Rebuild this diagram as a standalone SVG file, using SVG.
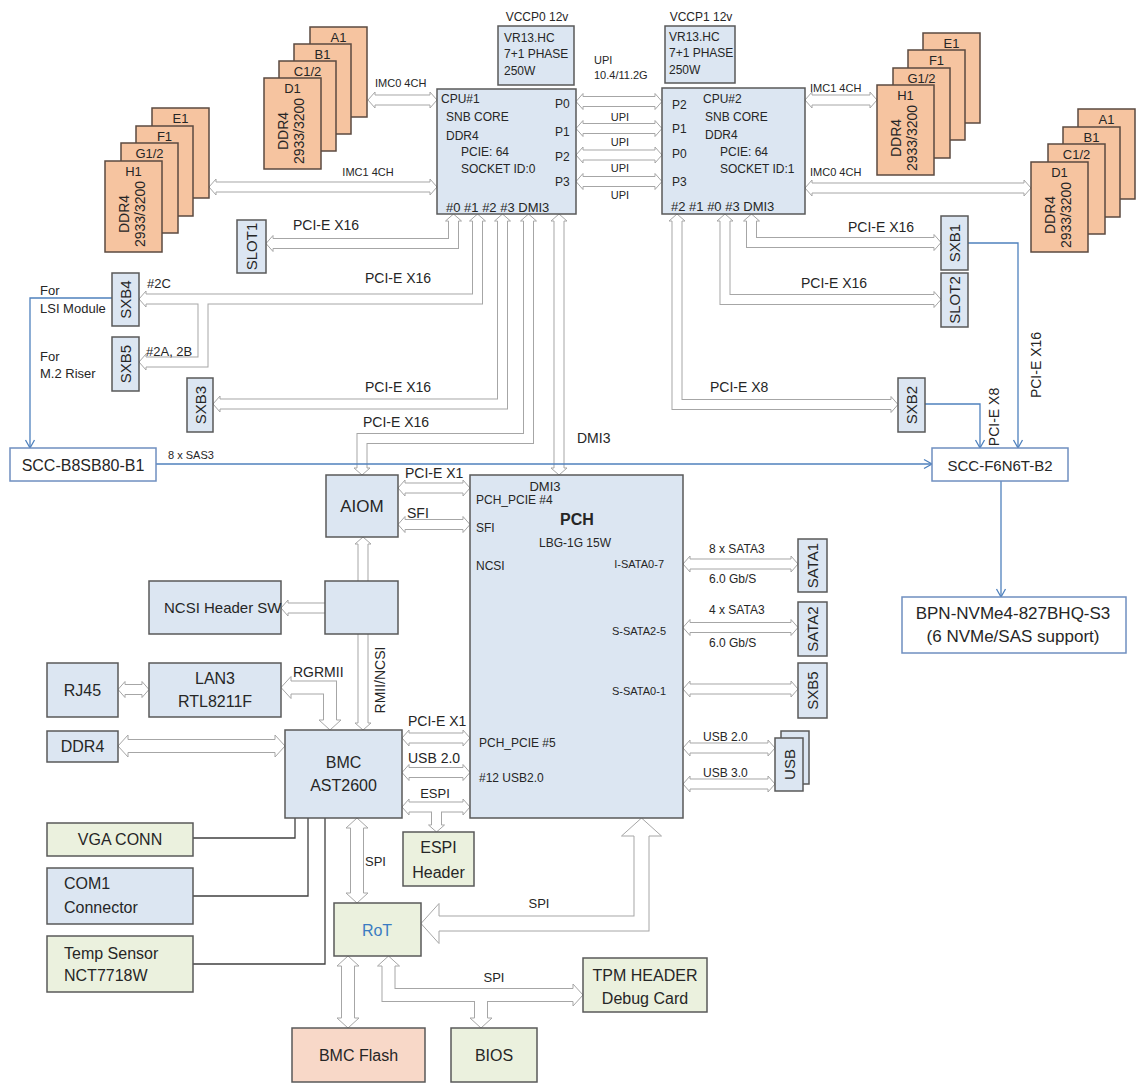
<svg xmlns="http://www.w3.org/2000/svg" width="1140" height="1087" viewBox="0 0 1140 1087">
<style>
text{font-family:"Liberation Sans",Arial,sans-serif;fill:#262626;dominant-baseline:central;font-size:12px}
.c{text-anchor:middle}
.e{text-anchor:end}
.bx{fill:#dce6f2;stroke:#595959;stroke-width:1.5}
.gr{fill:#ebf1de;stroke:#595959;stroke-width:1.5}
.pk{fill:#f8d8c8;stroke:#595959;stroke-width:1.5}
.dm{fill:#f6c4a0;stroke:#5b4a40;stroke-width:1.5}
.wb{fill:#fff;stroke:#6f8fc0;stroke-width:1.5}
.so{fill:none;stroke:#a6a6a6;stroke-width:11}
.si{fill:none;stroke:#fff;stroke-width:9}
.mo{fill:none;stroke:#a6a6a6;stroke-width:14}
.mi{fill:none;stroke:#fff;stroke-width:12}
.lo{fill:none;stroke:#a6a6a6;stroke-width:16}
.li{fill:none;stroke:#fff;stroke-width:14}
.bl{fill:none;stroke:#4f81bd;stroke-width:1.3}
.dk{fill:none;stroke:#404040;stroke-width:1.3}
.t11{font-size:11px}.t12{font-size:12px}.t13{font-size:13px}.t14{font-size:14px}.t15{font-size:15px}.t16{font-size:16px}.t17{font-size:17px}
</style>
<defs>
<marker id="hs" markerUnits="userSpaceOnUse" markerWidth="10" markerHeight="20" refX="0" refY="0" orient="auto-start-reverse" overflow="visible">
<polyline points="0,-5 0,-8 7,0 0,8 0,5" fill="#fff" stroke="#a6a6a6" stroke-width="1"/>
</marker>
<marker id="hm" markerUnits="userSpaceOnUse" markerWidth="12" markerHeight="24" refX="0" refY="0" orient="auto-start-reverse" overflow="visible">
<polyline points="0,-6.5 0,-11 10,0 0,11 0,6.5" fill="#fff" stroke="#a6a6a6" stroke-width="1"/>
</marker>
<marker id="hb" markerUnits="userSpaceOnUse" markerWidth="20" markerHeight="42" refX="0" refY="0" orient="auto-start-reverse" overflow="visible">
<polyline points="0,-7.5 0,-20 18,0 0,20 0,7.5" fill="#fff" stroke="#a6a6a6" stroke-width="1"/>
</marker>
<marker id="ba" markerUnits="userSpaceOnUse" markerWidth="10" markerHeight="10" refX="8" refY="0" orient="auto" overflow="visible">
<path d="M0,-4.5L8,0L0,4.5" fill="none" stroke="#4f81bd" stroke-width="1.3"/>
</marker>
</defs>
<rect width="1140" height="1087" fill="#fff"/>

<g id="connectors">
<!-- memory buses -->
<path class="so" d="M375 100H430" marker-start="url(#hs)" marker-end="url(#hs)"/><path class="si" d="M375 100H430"/>
<path class="so" d="M216 187H430" marker-start="url(#hs)" marker-end="url(#hs)"/><path class="si" d="M216 187H430"/>
<path class="so" d="M812 100H870" marker-start="url(#hs)" marker-end="url(#hs)"/><path class="si" d="M812 100H870"/>
<path class="so" d="M812 188H1024" marker-start="url(#hs)" marker-end="url(#hs)"/><path class="si" d="M812 188H1024"/>
<!-- UPI -->
<path class="so" d="M583 101.5H655" marker-start="url(#hs)" marker-end="url(#hs)"/><path class="si" d="M583 101.5H655"/>
<path class="so" d="M583 128.5H655" marker-start="url(#hs)" marker-end="url(#hs)"/><path class="si" d="M583 128.5H655"/>
<path class="so" d="M583 155H655" marker-start="url(#hs)" marker-end="url(#hs)"/><path class="si" d="M583 155H655"/>
<path class="so" d="M583 181.5H655" marker-start="url(#hs)" marker-end="url(#hs)"/><path class="si" d="M583 181.5H655"/>
<!-- CPU1 PCIe -->
<path class="so" d="M453.5 221V243.5H273" marker-start="url(#hs)" marker-end="url(#hs)"/><path class="si" d="M453.5 221V243.5H273"/>
<path class="so" d="M477.5 221V299H146" marker-start="url(#hs)" marker-end="url(#hs)"/>
<path class="so" d="M203 299V362H146" marker-end="url(#hs)"/>
<path class="si" d="M477.5 221V299H146"/><path class="si" d="M203 299V362H146"/>
<path class="so" d="M502.5 221V404H220" marker-start="url(#hs)" marker-end="url(#hs)"/><path class="si" d="M502.5 221V404H220"/>
<path class="so" d="M528.5 221V438.5H362V468" marker-start="url(#hs)" marker-end="url(#hs)"/><path class="si" d="M528.5 221V438.5H362V468"/>
<path class="so" d="M559 221V468" marker-start="url(#hs)" marker-end="url(#hs)"/><path class="si" d="M559 221V468"/>
<!-- CPU2 PCIe -->
<path class="so" d="M751.5 221V242.5H934" marker-start="url(#hs)" marker-end="url(#hs)"/><path class="si" d="M751.5 221V242.5H934"/>
<path class="so" d="M725 221V299.5H934" marker-start="url(#hs)" marker-end="url(#hs)"/><path class="si" d="M725 221V299.5H934"/>
<path class="so" d="M677 221V404.5H891" marker-start="url(#hs)" marker-end="url(#hs)"/><path class="si" d="M677 221V404.5H891"/>
<!-- AIOM -->
<path class="so" d="M405 488H463" marker-start="url(#hs)" marker-end="url(#hs)"/><path class="si" d="M405 488H463"/>
<path class="so" d="M405 524.5H463" marker-start="url(#hs)" marker-end="url(#hs)"/><path class="si" d="M405 524.5H463"/>
<path class="so" d="M363 582V544" marker-end="url(#hs)"/><path class="si" d="M363 582V544"/>
<path class="so" d="M325 608H288" marker-end="url(#hs)"/><path class="si" d="M325 608H288"/>
<path class="so" d="M363 634V723" marker-end="url(#hs)"/><path class="si" d="M363 634V723"/>
<!-- LAN / DDR4 -->
<path class="so" d="M125 689.5H142" marker-start="url(#hs)" marker-end="url(#hs)"/><path class="si" d="M125 689.5H142"/>
<path class="mo" d="M291 687.5H330V720" marker-start="url(#hm)" marker-end="url(#hm)"/><path class="mi" d="M291 687.5H330V720"/>
<path class="mo" d="M128 746H275" marker-start="url(#hm)" marker-end="url(#hm)"/><path class="mi" d="M128 746H275"/>
<!-- BMC - PCH -->
<path class="so" d="M409 738H463" marker-start="url(#hs)" marker-end="url(#hs)"/><path class="si" d="M409 738H463"/>
<path class="so" d="M409 772.5H463" marker-start="url(#hs)" marker-end="url(#hs)"/><path class="si" d="M409 772.5H463"/>
<path class="so" d="M409 807H463" marker-start="url(#hs)" marker-end="url(#hs)"/>
<path class="so" d="M436.5 807V825" marker-end="url(#hs)"/>
<path class="si" d="M409 807H463"/><path class="si" d="M436.5 807V825"/>
<!-- PCH right -->
<path class="so" d="M690 564H791" marker-start="url(#hs)" marker-end="url(#hs)"/><path class="si" d="M690 564H791"/>
<path class="so" d="M690 627.5H791" marker-start="url(#hs)" marker-end="url(#hs)"/><path class="si" d="M690 627.5H791"/>
<path class="so" d="M690 689H791" marker-start="url(#hs)" marker-end="url(#hs)"/><path class="si" d="M690 689H791"/>
<path class="so" d="M690 748H768" marker-start="url(#hs)" marker-end="url(#hs)"/><path class="si" d="M690 748H768"/>
<path class="so" d="M690 784H768" marker-start="url(#hs)" marker-end="url(#hs)"/><path class="si" d="M690 784H768"/>
<!-- SPI -->
<path class="mo" d="M357 828V893" marker-start="url(#hm)" marker-end="url(#hm)"/><path class="mi" d="M357 828V893"/>
<path class="mo" d="M348 966V1018" marker-start="url(#hm)" marker-end="url(#hm)"/><path class="mi" d="M348 966V1018"/>
<path class="mo" d="M388.5 966V995H573" marker-start="url(#hm)" marker-end="url(#hm)"/>
<path class="mo" d="M481 995V1018" marker-end="url(#hm)"/>
<path class="mi" d="M388.5 966V995H573"/><path class="mi" d="M481 995V1018"/>
<path class="lo" d="M439 923.5H641.5V836" marker-start="url(#hb)" marker-end="url(#hb)"/><path class="li" d="M439 923.5H641.5V836"/>
<!-- blue -->
<path class="bl" d="M112 298H30V448" marker-end="url(#ba)"/>
<path class="bl" d="M156 464H932" marker-end="url(#ba)"/>
<path class="bl" d="M968 243H1018V448" marker-end="url(#ba)"/>
<path class="bl" d="M925 404H980V448" marker-end="url(#ba)"/>
<path class="bl" d="M1001 481V597" marker-end="url(#ba)"/>
<!-- dark -->
<path class="dk" d="M193 838H295V818"/>
<path class="dk" d="M193 896H308V818"/>
<path class="dk" d="M193 964H325V818"/>
</g>

<g id="connector-labels">
<text class="t11" x="375" y="83">IMC0 4CH</text>
<text class="t11 c" x="368" y="172">IMC1 4CH</text>
<text class="t11" x="810" y="88">IMC1 4CH</text>
<text class="t11" x="810" y="172">IMC0 4CH</text>
<text class="t11" x="594" y="60">UPI</text>
<text class="t11" x="594" y="75">10.4/11.2G</text>
<text class="t11 c" x="620" y="117">UPI</text>
<text class="t11 c" x="620" y="142">UPI</text>
<text class="t11 c" x="620" y="168">UPI</text>
<text class="t11 c" x="620" y="195">UPI</text>
<text class="t14" x="293" y="225">PCI-E X16</text>
<text class="t14" x="365" y="278">PCI-E X16</text>
<text class="t14" x="365" y="387">PCI-E X16</text>
<text class="t14" x="363" y="422">PCI-E X16</text>
<text class="t14" x="577" y="438">DMI3</text>
<text class="t14" x="848" y="227">PCI-E X16</text>
<text class="t14" x="801" y="283">PCI-E X16</text>
<text class="t14" x="710" y="387">PCI-E X8</text>
<text class="t14 c" transform="rotate(-90 1036 365)" x="1036" y="365">PCI-E X16</text>
<text class="t14 c" transform="rotate(-90 994 417)" x="994" y="417">PCI-E X8</text>
<text class="t13" x="147" y="283">#2C</text>
<text class="t13" x="146" y="351">#2A, 2B</text>
<text class="t13" x="40" y="290">For</text>
<text class="t13" x="40" y="308">LSI Module</text>
<text class="t13" x="40" y="356">For</text>
<text class="t13" x="40" y="373">M.2 Riser</text>
<text class="t11" x="168" y="455">8 x SAS3</text>
<text class="t14" x="405" y="473">PCI-E X1</text>
<text class="t14" x="407" y="513">SFI</text>
<text class="t14 c" transform="rotate(-90 380 680)" x="380" y="680">RMII/NCSI</text>
<text class="t14" x="293" y="672">RGRMII</text>
<text class="t14" x="408" y="721">PCI-E X1</text>
<text class="t14" x="408" y="758">USB 2.0</text>
<text class="t13 c" x="435" y="793">ESPI</text>
<text class="t12" x="709" y="549">8 x SATA3</text>
<text class="t12" x="709" y="579">6.0 Gb/S</text>
<text class="t12" x="709" y="610">4 x SATA3</text>
<text class="t12" x="709" y="643">6.0 Gb/S</text>
<text class="t12" x="703" y="737">USB 2.0</text>
<text class="t12" x="703" y="773">USB 3.0</text>
<text class="t13" x="365" y="861">SPI</text>
<text class="t13 c" x="539" y="903">SPI</text>
<text class="t13 c" x="494" y="977">SPI</text>
</g>

<g id="dimm-cpu1-imc0">
<rect class="dm" x="310" y="27" width="57" height="90"/><text class="t13 c" x="338.5" y="37">A1</text>
<rect class="dm" x="294" y="44" width="57" height="90"/><text class="t13 c" x="322.5" y="54">B1</text>
<rect class="dm" x="279" y="61" width="57" height="90"/><text class="t13 c" x="307.5" y="71">C1/2</text>
<rect class="dm" x="264" y="78" width="57" height="91"/><text class="t13 c" x="292.5" y="88">D1</text>
<text class="t14 c" transform="rotate(-90 283 131)" x="283" y="131">DDR4</text>
<text class="t14 c" transform="rotate(-90 299 131)" x="299" y="131">2933/3200</text>
</g>
<g id="dimm-cpu1-imc1">
<rect class="dm" x="152" y="108" width="57" height="90"/><text class="t13 c" x="180.5" y="118">E1</text>
<rect class="dm" x="136" y="126" width="57" height="90"/><text class="t13 c" x="164.5" y="136">F1</text>
<rect class="dm" x="121" y="143" width="57" height="90"/><text class="t13 c" x="149.5" y="153">G1/2</text>
<rect class="dm" x="105" y="161" width="57" height="91"/><text class="t13 c" x="133.5" y="171">H1</text>
<text class="t14 c" transform="rotate(-90 124 214)" x="124" y="214">DDR4</text>
<text class="t14 c" transform="rotate(-90 140 214)" x="140" y="214">2933/3200</text>
</g>
<g id="dimm-cpu2-imc1">
<rect class="dm" x="923" y="33" width="57" height="90"/><text class="t13 c" x="951.5" y="43">E1</text>
<rect class="dm" x="908" y="50" width="57" height="90"/><text class="t13 c" x="936.5" y="60">F1</text>
<rect class="dm" x="893" y="68" width="57" height="90"/><text class="t13 c" x="921.5" y="78">G1/2</text>
<rect class="dm" x="877" y="85" width="57" height="90"/><text class="t13 c" x="905.5" y="95">H1</text>
<text class="t14 c" transform="rotate(-90 896 138)" x="896" y="138">DDR4</text>
<text class="t14 c" transform="rotate(-90 912 138)" x="912" y="138">2933/3200</text>
</g>
<g id="dimm-cpu2-imc0">
<rect class="dm" x="1078" y="109" width="57" height="90"/><text class="t13 c" x="1106.5" y="119">A1</text>
<rect class="dm" x="1063" y="127" width="57" height="90"/><text class="t13 c" x="1091.5" y="137">B1</text>
<rect class="dm" x="1048" y="144" width="57" height="90"/><text class="t13 c" x="1076.5" y="154">C1/2</text>
<rect class="dm" x="1031" y="162" width="57" height="90"/><text class="t13 c" x="1059.5" y="172">D1</text>
<text class="t14 c" transform="rotate(-90 1050 215)" x="1050" y="215">DDR4</text>
<text class="t14 c" transform="rotate(-90 1066 215)" x="1066" y="215">2933/3200</text>
</g>

<g id="vr0">
<text class="t12 c" x="537" y="17">VCCP0 12v</text>
<rect class="bx" x="498" y="26" width="76" height="59"/>
<text class="t12" x="504" y="38">VR13.HC</text><text class="t12" x="504" y="54">7+1 PHASE</text><text class="t12" x="504" y="71">250W</text>
</g>
<g id="vr1">
<text class="t12 c" x="701" y="17">VCCP1 12v</text>
<rect class="bx" x="665" y="26" width="70" height="57"/>
<text class="t12" x="669" y="37">VR13.HC</text><text class="t12" x="669" y="53">7+1 PHASE</text><text class="t12" x="669" y="70">250W</text>
</g>
<g id="cpu1">
<rect class="bx" x="437" y="89" width="139" height="125"/>
<text class="t12" x="441" y="99">CPU#1</text>
<text class="t12" x="446" y="117">SNB CORE</text>
<text class="t12" x="446" y="136">DDR4</text>
<text class="t12" x="461" y="152">PCIE: 64</text>
<text class="t12" x="461" y="169">SOCKET ID:0</text>
<text class="t12" x="555" y="104">P0</text><text class="t12" x="555" y="132">P1</text><text class="t12" x="555" y="157">P2</text><text class="t12" x="555" y="182">P3</text>
<text class="t13" x="446" y="207">#0 #1 #2 #3 DMI3</text>
</g>
<g id="cpu2">
<rect class="bx" x="662" y="88" width="143" height="126"/>
<text class="t12" x="703" y="99">CPU#2</text>
<text class="t12" x="705" y="117">SNB CORE</text>
<text class="t12" x="705" y="135">DDR4</text>
<text class="t12" x="720" y="152">PCIE: 64</text>
<text class="t12" x="720" y="169">SOCKET ID:1</text>
<text class="t12" x="672" y="105">P2</text><text class="t12" x="672" y="129">P1</text><text class="t12" x="672" y="154">P0</text><text class="t12" x="672" y="182">P3</text>
<text class="t13" x="671" y="206">#2 #1 #0 #3 DMI3</text>
</g>

<g id="slot1"><rect class="bx" x="237" y="220" width="29" height="53"/><text class="t15 c" transform="rotate(-90 251.5 246.5)" x="251.5" y="246.5">SLOT1</text></g>
<g id="sxb4"><rect class="bx" x="112" y="273" width="27" height="53"/><text class="t15 c" transform="rotate(-90 125.5 299.5)" x="125.5" y="299.5">SXB4</text></g>
<g id="sxb5-left"><rect class="bx" x="112" y="337" width="27" height="54"/><text class="t15 c" transform="rotate(-90 125.5 364)" x="125.5" y="364">SXB5</text></g>
<g id="sxb3"><rect class="bx" x="187" y="378" width="26" height="54"/><text class="t15 c" transform="rotate(-90 200 405)" x="200" y="405">SXB3</text></g>
<g id="sxb1"><rect class="bx" x="941" y="216" width="27" height="54"/><text class="t15 c" transform="rotate(-90 954.5 243)" x="954.5" y="243">SXB1</text></g>
<g id="slot2"><rect class="bx" x="941" y="273" width="27" height="54"/><text class="t15 c" transform="rotate(-90 954.5 300)" x="954.5" y="300">SLOT2</text></g>
<g id="sxb2"><rect class="bx" x="898" y="378" width="27" height="54"/><text class="t15 c" transform="rotate(-90 911.5 405)" x="911.5" y="405">SXB2</text></g>

<g id="scc-b8sb80"><rect class="wb" x="10" y="448" width="146" height="33"/><text class="t16 c" x="83" y="465">SCC-B8SB80-B1</text></g>
<g id="scc-f6n6t"><rect class="wb" x="932" y="448" width="136" height="33"/><text class="t15 c" x="1000" y="465">SCC-F6N6T-B2</text></g>
<g id="bpn"><rect class="wb" x="902" y="597" width="224" height="56"/><text class="t17 c" x="1013" y="613">BPN-NVMe4-827BHQ-S3</text><text class="t17 c" x="1013" y="636">(6 NVMe/SAS support)</text></g>

<g id="aiom"><rect class="bx" x="326" y="475" width="72" height="62"/><text class="t17 c" x="362" y="506">AIOM</text></g>
<g id="pch">
<rect class="bx" x="470" y="475" width="213" height="343"/>
<text class="t13 c" x="545" y="486">DMI3</text>
<text class="t12" x="476" y="500">PCH_PCIE #4</text>
<text class="t16 c" x="577" y="519" font-weight="bold">PCH</text>
<text class="t12" x="476" y="528">SFI</text>
<text class="t12 c" x="575" y="543">LBG-1G 15W</text>
<text class="t12" x="476" y="566">NCSI</text>
<text class="t11 e" x="664" y="564">I-SATA0-7</text>
<text class="t11 e" x="666" y="631">S-SATA2-5</text>
<text class="t11 e" x="666" y="691">S-SATA0-1</text>
<text class="t12" x="479" y="743">PCH_PCIE #5</text>
<text class="t12" x="479" y="778">#12 USB2.0</text>
</g>
<g id="sata1"><rect class="bx" x="798" y="539" width="29" height="53"/><text class="t15 c" transform="rotate(-90 812.5 565.5)" x="812.5" y="565.5">SATA1</text></g>
<g id="sata2"><rect class="bx" x="798" y="602" width="29" height="54"/><text class="t15 c" transform="rotate(-90 812.5 629)" x="812.5" y="629">SATA2</text></g>
<g id="sxb5-right"><rect class="bx" x="798" y="663" width="29" height="55"/><text class="t15 c" transform="rotate(-90 812.5 690.5)" x="812.5" y="690.5">SXB5</text></g>
<g id="usb"><rect class="bx" x="781" y="731" width="28" height="53"/><rect class="bx" x="775" y="738" width="28" height="53"/><text class="t15 c" transform="rotate(-90 789 764.5)" x="789" y="764.5">USB</text></g>

<g id="ncsi-switch"><rect class="bx" x="325" y="581" width="73" height="53"/></g>
<g id="ncsi-header"><rect class="bx" x="149" y="581" width="132" height="53"/><text class="t15" x="164" y="607">NCSI Header SW</text></g>
<g id="rj45"><rect class="bx" x="47" y="663" width="71" height="54"/><text class="t16 c" x="82.5" y="690">RJ45</text></g>
<g id="lan3"><rect class="bx" x="149" y="663" width="132" height="54"/><text class="t16 c" x="215" y="678">LAN3</text><text class="t16 c" x="215" y="701">RTL8211F</text></g>
<g id="ddr4-bmc"><rect class="bx" x="47" y="731" width="71" height="31"/><text class="t16 c" x="82.5" y="746.5">DDR4</text></g>
<g id="bmc"><rect class="bx" x="285" y="730" width="117" height="88"/><text class="t16 c" x="343.5" y="762">BMC</text><text class="t16 c" x="343.5" y="785">AST2600</text></g>
<g id="vga"><rect class="gr" x="47" y="823" width="146" height="33"/><text class="t16 c" x="120" y="839.5">VGA CONN</text></g>
<g id="com1"><rect class="bx" x="47" y="868" width="146" height="56"/><text class="t16" x="64" y="883">COM1</text><text class="t16" x="64" y="907">Connector</text></g>
<g id="temp"><rect class="gr" x="47" y="936" width="146" height="56"/><text class="t16" x="64" y="953">Temp Sensor</text><text class="t16" x="64" y="975">NCT7718W</text></g>
<g id="espi-header"><rect class="gr" x="403" y="832" width="71" height="54"/><text class="t16 c" x="438.5" y="847">ESPI</text><text class="t16 c" x="438.5" y="872">Header</text></g>
<g id="rot"><rect class="gr" x="334" y="903" width="87" height="53"/><text class="t16 c" x="377" y="930" style="fill:#3a7cc2">RoT</text></g>
<g id="tpm"><rect class="gr" x="583" y="958" width="124" height="54"/><text class="t16 c" x="645" y="975">TPM HEADER</text><text class="t16 c" x="645" y="998">Debug Card</text></g>
<g id="bmc-flash"><rect class="pk" x="292" y="1028" width="133" height="54"/><text class="t16 c" x="358.5" y="1055">BMC Flash</text></g>
<g id="bios"><rect class="gr" x="451" y="1028" width="86" height="54"/><text class="t16 c" x="494" y="1055">BIOS</text></g>
</svg>
